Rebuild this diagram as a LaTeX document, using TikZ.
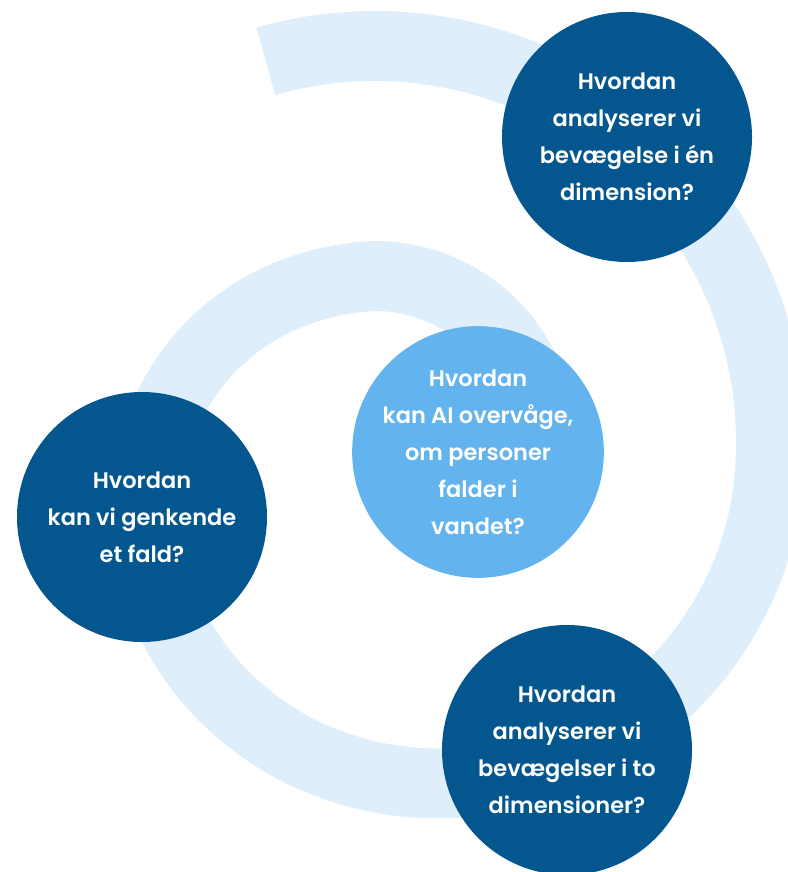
\documentclass[tikz,border=0pt]{standalone}
\usepackage{fontspec}
\setmainfont{Poppins SemiBold}
\definecolor{bandcol}{HTML}{DFEEFB}
\definecolor{darkcol}{HTML}{03568E}
\definecolor{lightcol}{HTML}{62B3EE}
\begin{document}
\begin{tikzpicture}[x=1pt,y=-1pt,
  declare function={uu(\t)=min(max((\t-10)/260,0),1);
    rr(\t)=396-230*(3*uu(\t)^2-2*uu(\t)^3)-11*sin(180*uu(\t));},
  bubble/.style={circle, minimum size=250pt, inner sep=0pt, text=white, align=center,
    font=\fontsize{22.5}{37}\selectfont},
  darkbubble/.style={bubble, fill=darkcol},
  lightbubble/.style={bubble, fill=lightcol},
  spiral/.style={draw=bandcol, line width=70pt, line join=round}]
\useasboundingbox (0,0) rectangle (787,872);
\draw[spiral] plot[domain=-106:360, samples=467, variable=\t]
  ({375+rr(\t)*cos(\t)}, {442+rr(\t)*sin(\t)});
\node[darkbubble] (q1) at (627,137) {Hvordan\\analyserer vi\\bevægelse i én\\dimension?};
\node[lightbubble] (q0) at (478,452) {Hvordan\\kan AI overvåge,\\om personer\\falder i\\vandet?};
\node[darkbubble] (q3) at (142,517) {Hvordan\\kan vi genkende\\et fald?};
\node[darkbubble] (q2) at (567,750) {Hvordan\\analyserer vi\\bevægelser i to\\dimensioner?};
\end{tikzpicture}
\end{document}
